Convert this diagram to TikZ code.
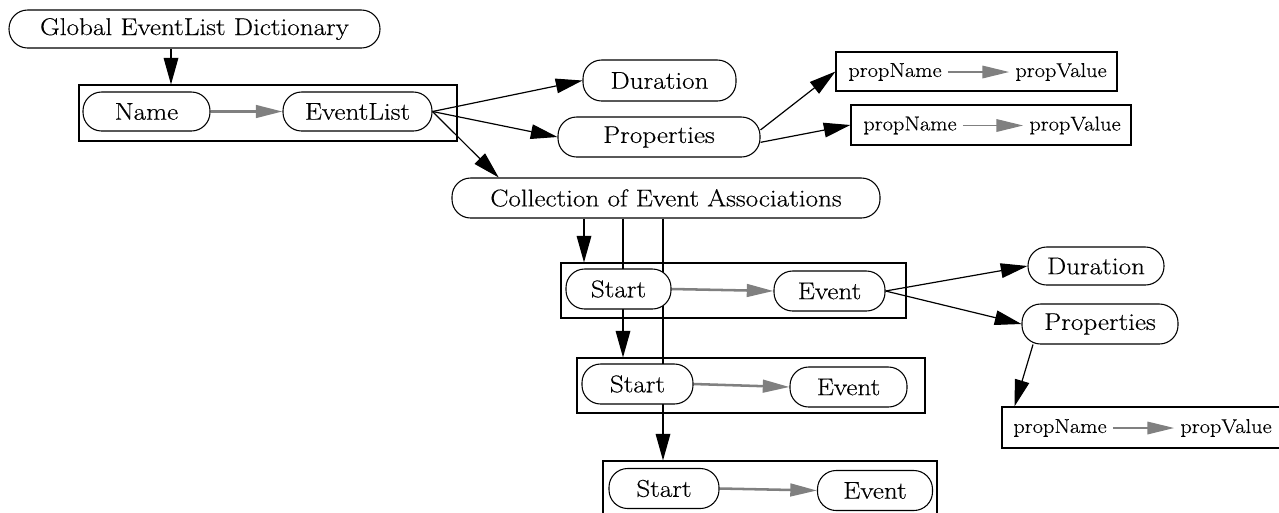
\documentclass[tikz,border=0pt]{standalone}
\usepackage{fontspec}
\setmainfont[FakeStretch=1.12,FakeBold=0.4]{Latin Modern Roman}
\usetikzlibrary{arrows.meta,backgrounds}
\newcommand{\mainsz}{\fontsize{18.2}{21}\selectfont}
\newcommand{\smallsz}{\fontsize{15}{17}\selectfont}
\tikzset{
  pill/.style={draw, fill=white, rounded corners=14pt, inner sep=0pt, line width=0.8pt, font=\mainsz},
  cluster/.style={draw, inner sep=0pt, line width=0.8pt},
  ptext/.style={inner sep=4.5pt, font=\smallsz},
  edge/.style={draw, line width=0.9pt, -{Triangle[length=20pt,width=11pt]}},
  gedge/.style={draw=gray, line width=1.9pt, -{Triangle[length=20pt,width=9.5pt]}},
  sgedge/.style={draw=gray, line width=0.9pt, -{Triangle[length=20pt,width=9.5pt]}},
}
\begin{document}
\begin{tikzpicture}[x=0.75pt,y=-0.75pt]
\useasboundingbox (0,0) rectangle (1279,512);
\clip (0,0) rectangle (1279,512);
% clusters
\node[cluster, minimum width=283.5pt, minimum height=42pt] (box0) at (268,113) {};
\node[cluster, minimum width=258.75pt, minimum height=41.25pt] (boxA) at (733.5,290.5) {};
\node[cluster, minimum width=261pt, minimum height=41.25pt] (boxB) at (751,385.5) {};
\node[cluster, minimum width=250.5pt, minimum height=41.25pt] (boxC) at (770,488.5) {};
\node[cluster, minimum width=210.75pt, minimum height=29.25pt] (pbox1) at (976.5,71.5) {};
\node[cluster, minimum width=210pt, minimum height=30pt] (pbox2) at (991,125) {};
\node[cluster, minimum width=210pt, minimum height=30.75pt] (pbox3) at (1142,427.5) {};
% pills
\node[pill, minimum width=278.25pt, minimum height=28.5pt] (gdict) at (194.5,29) {Global EventList Dictionary};
\node[pill, minimum width=95.25pt, minimum height=29.25pt] (name) at (146.5,111.5) {Name};
\node[pill, minimum width=111.75pt, minimum height=29.25pt] (evlist) at (357.5,111.5) {EventList};
\node[pill, minimum width=114.75pt, minimum height=30.75pt] (dur1) at (659.5,80.5) {Duration};
\node[pill, minimum width=151.5pt, minimum height=30pt] (prop1) at (659,137) {Properties};
\node[pill, minimum width=321pt, minimum height=30pt] (coll) at (666,198) {Collection of Event Associations};
\node[pill, minimum width=78.75pt, minimum height=30pt] (startA) at (618.5,289) {Start};
\node[pill, minimum width=83.25pt, minimum height=30pt] (eventA) at (829.5,291) {Event};
\node[pill, minimum width=83.25pt, minimum height=30pt] (startB) at (637.5,384) {Start};
\node[pill, minimum width=87.75pt, minimum height=30pt] (eventB) at (848.5,387) {Event};
\node[pill, minimum width=82.5pt, minimum height=30pt] (startC) at (664,488.5) {Start};
\node[pill, minimum width=86.25pt, minimum height=30pt] (eventC) at (875,490.5) {Event};
\node[pill, minimum width=102pt, minimum height=28.5pt] (dur2) at (1096,266) {Duration};
\node[pill, minimum width=117pt, minimum height=30pt] (prop2) at (1100,324) {Properties};
% property texts
\node[ptext] (pn1) at (895,72) {propName};
\node[ptext] (pv1) at (1061,72) {propValue};
\node[ptext] (pn2) at (910,125.5) {propName};
\node[ptext] (pv2) at (1075,125.5) {propValue};
\node[ptext] (pn3) at (1060,428) {propName};
\node[ptext] (pv3) at (1226,428) {propValue};
% coordinates for vertical connectors
\coordinate (x0) at (171,0);
\coordinate (xa) at (584,0);
\coordinate (xb) at (623,0);
\coordinate (xc) at (663,0);
\begin{pgfonlayer}{background}
\draw[edge] (gdict.south -| x0) -- (box0.north -| x0);
\draw[gedge] (name.east) -- (evlist.west);
\draw[edge] (evlist.east) -- (dur1.west);
\draw[edge] (evlist.east) -- (prop1.west);
\draw[edge] (evlist.east) -- (coll.173.6);
\draw[edge] (prop1.4) -- (pbox1.west);
\draw[edge] (prop1.-3) -- (pbox2.west);
\draw[sgedge] (pn1.east) -- (pv1.west);
\draw[sgedge] (pn2.east) -- (pv2.west);
\draw[sgedge] (pn3.east) -- (pv3.west);
\draw[edge] (coll.south -| xa) -- (boxA.north -| xa);
\draw[edge] (coll.south -| xb) -- (boxB.north -| xb);
\draw[edge] (coll.south -| xc) -- (boxC.north -| xc);
\draw[gedge] (startA.east) -- (eventA.west);
\draw[gedge] (startB.east) -- (eventB.west);
\draw[gedge] (startC.east) -- (eventC.west);
\draw[edge] (eventA.east) -- (dur2.west);
\draw[edge] (eventA.east) -- (prop2.west);
\draw[edge] ([xshift=-50.25pt]prop2.south) -- ([xshift=9.75pt]pbox3.north west);
\end{pgfonlayer}
\end{tikzpicture}
\end{document}
